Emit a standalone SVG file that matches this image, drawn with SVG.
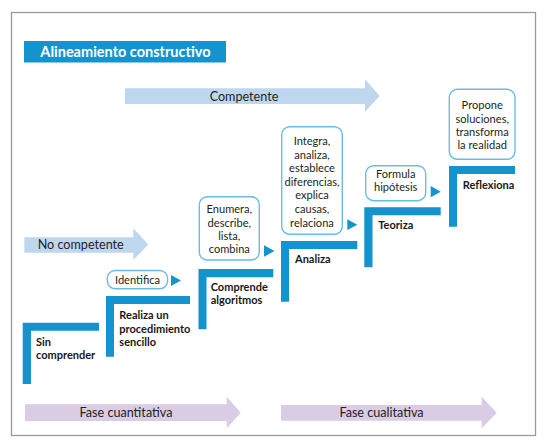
<svg xmlns="http://www.w3.org/2000/svg" width="546" height="445" viewBox="0 0 546 445">
<style>
.frame{fill:#fff;stroke:#9a9a9a;stroke-width:1.3}
.step{fill:#1593cf}
.box{fill:#fff;stroke:#6cbbe4;stroke-width:1.4}
.tri{fill:#1593cf}
.blueArrow{fill:#bfd7ee}
.purpleArrow{fill:#d9cce4}
.t{font-family:Lato,"Open Sans","Liberation Sans",sans-serif;fill:#231f20}
.reg{font-size:12.6px}
.bx{font-size:11.1px;text-anchor:middle}
.lbl{font-size:11px;font-weight:bold;fill:#1a1718}
.title{font-family:Lato,"Open Sans","Liberation Sans",sans-serif;font-size:14.5px;font-weight:bold;fill:#fff;text-anchor:middle}
</style>
<rect class="frame" x="11.5" y="12.5" width="524" height="423"/>
<g id="title">
<rect x="24" y="41" width="202" height="21.5" fill="#1593cf"/>
<text class="title" x="125.5" y="57">Alineamiento constructivo</text>
</g>
<g id="competente">
<polygon class="blueArrow" points="125,88.3 365,88.3 365,79 379.7,96 365,111.7 365,104 125,104"/>
<text class="t reg" x="244" y="100.5" text-anchor="middle">Competente</text>
</g>
<g id="no-competente">
<polygon class="blueArrow" points="24.3,237.3 133.3,237.3 133.3,228.3 148.3,244.5 133.3,260 133.3,252.7 24.3,252.7"/>
<text class="t reg" x="37.7" y="249.3">No competente</text>
</g>
<g id="fase-cuantitativa">
<polygon class="purpleArrow" points="25,404.3 226.7,404.3 226.7,396.7 240.7,412.7 226.7,428.3 226.7,421 25,421"/>
<text class="t reg" x="126" y="417" text-anchor="middle">Fase cuantitativa</text>
</g>
<g id="fase-cualitativa">
<polygon class="purpleArrow" points="281,405 481.7,405 481.7,396.7 496.7,412.7 481.7,428.3 481.7,420.7 281,420.7"/>
<text class="t reg" x="381.5" y="417" text-anchor="middle">Fase cualitativa</text>
</g>
<g id="sin-comprender">
<path class="step" d="M22.7,322.7H99V330.7H31V384H22.7Z"/>
<text class="t lbl" x="36" y="346">Sin</text>
<text class="t lbl" x="36" y="359.3">comprender</text>
</g>
<g id="realiza">
<path class="step" d="M106,296H190V304H114V356.7H106Z"/>
<text class="t lbl" x="119.3" y="319">Realiza un</text>
<text class="t lbl" x="119.3" y="332.5">procedimiento</text>
<text class="t lbl" x="119.3" y="346">sencillo</text>
</g>
<g id="comprende">
<path class="step" d="M198.5,269H273.3V277.3H206.5V329.3H198.5Z"/>
<text class="t lbl" x="210.7" y="290.5">Comprende</text>
<text class="t lbl" x="210.7" y="304">algoritmos</text>
</g>
<g id="analiza">
<path class="step" d="M281,241H357.3V249H289V301.7H281Z"/>
<text class="t lbl" x="295" y="263.3">Analiza</text>
</g>
<g id="teoriza">
<path class="step" d="M364.3,207.3H440.7V215.3H372.5V267.3H364.3Z"/>
<text class="t lbl" x="378.3" y="229">Teoriza</text>
</g>
<g id="reflexiona">
<path class="step" d="M449,166H515V174H457V226.7H449Z"/>
<text class="t lbl" x="462.7" y="189">Reflexiona</text>
</g>
<g id="identifica">
<rect class="box" x="107.3" y="270.5" width="60.3" height="18.3" rx="8"/>
<text class="t bx" x="137.5" y="284.3">Identifica</text>
</g>
<g id="enumera">
<rect class="box" x="199.3" y="196.7" width="60" height="63.3" rx="8"/>
<text class="t bx" x="229.3" y="213.3">Enumera,</text>
<text class="t bx" x="229.3" y="226.7">describe,</text>
<text class="t bx" x="229.3" y="240">lista,</text>
<text class="t bx" x="229.3" y="253.3">combina</text>
</g>
<g id="integra">
<rect class="box" x="281.7" y="126.7" width="60.6" height="107.6" rx="8"/>
<text class="t bx" x="312" y="145">Integra,</text>
<text class="t bx" x="312" y="158.6">analiza,</text>
<text class="t bx" x="312" y="172.2">establece</text>
<text class="t bx" x="312" y="185.8">diferencias,</text>
<text class="t bx" x="312" y="199.3">explica</text>
<text class="t bx" x="312" y="212.9">causas,</text>
<text class="t bx" x="312" y="226.5">relaciona</text>
</g>
<g id="formula">
<rect class="box" x="365.7" y="165.7" width="60" height="35" rx="8"/>
<text class="t bx" x="395.7" y="177.8">Formula</text>
<text class="t bx" x="395.7" y="191.2">hipótesis</text>
</g>
<g id="propone">
<rect class="box" x="449.3" y="89.3" width="65.7" height="70" rx="8"/>
<text class="t bx" x="482.2" y="109.3">Propone</text>
<text class="t bx" x="482.2" y="122.6">soluciones,</text>
<text class="t bx" x="482.2" y="135.9">transforma</text>
<text class="t bx" x="482.2" y="149.2">la realidad</text>
</g>
<g id="connectors">
<polygon class="tri" points="171,275 181,280.5 171,286"/>
<polygon class="tri" points="264,245.3 274.5,251 264,256.7"/>
<polygon class="tri" points="347.3,219.3 357.3,224.7 347.3,230"/>
<polygon class="tri" points="430.7,186 440.7,191.7 430.7,197.3"/>
</g>
</svg>
